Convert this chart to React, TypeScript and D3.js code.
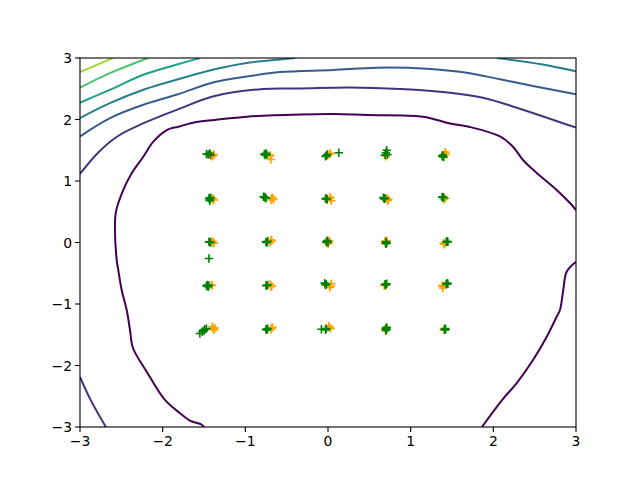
import React from "react";
import * as d3 from "d3";

// Tick values
const xTicks = [-3, -2, -1, 0, 1, 2, 3];
const yTicks = [-3, -2, -1, 0, 1, 2, 3];

// Contour lines (data coordinates), level index -> viridis colour
const contourLevel0a: [number, number][] = [
  [-1.498, -3.0], [-1.54, -2.954], [-1.665, -2.899], [-1.79, -2.776], [-1.978, -2.551],
  [-2.193, -2.101], [-2.359, -1.715], [-2.395, -1.423], [-2.435, -1.098], [-2.496, -0.772],
  [-2.537, -0.447], [-2.556, -0.285], [-2.577, 0.257], [-2.565, 0.501], [-2.476, 0.854],
  [-2.375, 1.125], [-2.234, 1.395], [-2.113, 1.639], [-1.951, 1.829], [-1.811, 1.883],
  [-1.588, 1.959], [-1.371, 1.992], [-0.983, 2.046], [-0.339, 2.081], [0.06, 2.089],
  [0.468, 2.073], [1.149, 2.046], [1.476, 1.935], [1.718, 1.878], [2.081, 1.724],
  [2.238, 1.558], [2.359, 1.341], [2.525, 1.13], [2.766, 0.854], [2.927, 0.642], [3.0, 0.528],
];
const contourLevel0b: [number, number][] = [
  [3.0, -0.312], [2.887, -0.475], [2.846, -0.772], [2.806, -1.098], [2.766, -1.207],
  [2.646, -1.532], [2.48, -1.911], [2.283, -2.285], [2.105, -2.561], [1.862, -3.0],
];
const contourLevel1a: [number, number][] = [
  [-3.0, 1.114], [-2.782, 1.46], [-2.54, 1.732], [-2.217, 1.948], [-1.815, 2.166],
  [-1.371, 2.382], [-0.786, 2.496], [-0.339, 2.504], [0.266, 2.52], [0.871, 2.496],
  [1.476, 2.436], [1.875, 2.354], [2.283, 2.192], [3.0, 1.867],
];
const contourLevel1b: [number, number][] = [
  [-3.0, -2.187], [-2.875, -2.551], [-2.687, -3.0],
];
const contourLevel2: [number, number][] = [
  [-3.0, 1.724], [-2.625, 2.029], [-2.217, 2.247], [-1.815, 2.41], [-1.371, 2.61],
  [-0.944, 2.707], [-0.581, 2.772], [0.06, 2.805], [0.589, 2.842], [1.194, 2.826],
  [1.678, 2.761], [2.081, 2.654], [2.48, 2.545], [3.0, 2.41],
];
const contourLevel3a: [number, number][] = [
  [-3.0, 2.024], [-2.625, 2.273], [-2.217, 2.491], [-1.815, 2.654], [-1.371, 2.816],
  [-0.944, 2.927], [-0.581, 2.976], [-0.399, 3.0],
];
const contourLevel3b: [number, number][] = [
  [2.044, 3.0], [2.564, 2.902], [3.0, 2.784],
];
const contourLevel4: [number, number][] = [
  [-3.0, 2.273], [-2.625, 2.491], [-2.217, 2.735], [-1.815, 2.898], [-1.548, 3.0],
];
const contourLevel5: [number, number][] = [
  [-3.0, 2.517], [-2.625, 2.761], [-2.177, 3.0],
];
const contourLevel6: [number, number][] = [
  [-3.0, 2.772], [-2.601, 3.0],
];

const contourLines = [
  { level: 0, points: contourLevel0a },
  { level: 0, points: contourLevel0b },
  { level: 1, points: contourLevel1a },
  { level: 1, points: contourLevel1b },
  { level: 2, points: contourLevel2 },
  { level: 3, points: contourLevel3a },
  { level: 3, points: contourLevel3b },
  { level: 4, points: contourLevel4 },
  { level: 5, points: contourLevel5 },
  { level: 6, points: contourLevel6 },
];
const levelCount = 8;

// Orange samples [x, y]
const orangePoints: [number, number][] = [
  // row y ≈ 1.41
  [-1.39, 1.42], [-1.4, 1.4], [-1.38, 1.43],
  [-0.7, 1.42], [-0.69, 1.35], [-0.71, 1.4],
  [0.02, 1.44], [0.0, 1.42], [0.03, 1.45],
  [0.71, 1.43], [0.7, 1.4],
  [1.42, 1.47], [1.43, 1.43], [1.41, 1.44],
  // row y ≈ 0.71
  [-1.39, 0.7], [-1.4, 0.72], [-1.38, 0.69],
  [-0.68, 0.72], [-0.66, 0.7], [-0.69, 0.69], [-0.67, 0.73],
  [0.03, 0.72], [0.04, 0.68], [0.02, 0.74],
  [0.73, 0.7], [0.71, 0.72], [0.72, 0.68],
  [1.42, 0.72], [1.4, 0.7],
  // row y ≈ 0
  [-1.39, 0.0], [-1.4, 0.02], [-1.38, -0.01],
  [-0.68, 0.03], [-0.7, 0.0], [-0.69, 0.04],
  [0.0, 0.03], [0.0, -0.02], [0.02, 0.02], [-0.02, 0.0],
  [0.71, 0.03], [0.69, 0.0], [0.69, 0.02],
  [1.4, -0.01], [1.41, -0.03],
  // row y ≈ -0.71
  [-1.41, -0.69], [-1.4, -0.7],
  [-0.68, -0.71], [-0.7, -0.68], [-0.69, -0.72],
  [0.03, -0.71], [0.04, -0.67], [0.02, -0.73],
  [0.69, -0.69], [0.68, -0.7],
  [1.39, -0.72], [1.38, -0.7], [1.39, -0.74],
  // row y ≈ -1.41
  [-1.39, -1.4], [-1.37, -1.39], [-1.4, -1.37], [-1.38, -1.42],
  [-0.68, -1.39], [-0.69, -1.41], [-0.67, -1.38],
  [0.02, -1.38], [0.03, -1.4], [0.01, -1.36],
  [0.7, -1.39], [0.69, -1.41],
  [1.41, -1.4], [1.4, -1.42],
];

// Green samples [x, y]
const greenPoints: [number, number][] = [
  // row y ≈ 1.41
  [-1.47, 1.44], [-1.45, 1.43], [-1.43, 1.45], [-1.42, 1.42],
  [-0.77, 1.44], [-0.75, 1.45], [-0.74, 1.43], [-0.76, 1.42],
  [-0.02, 1.41], [-0.01, 1.43], [-0.03, 1.4], [0.13, 1.46],
  [0.71, 1.5], [0.7, 1.46], [0.72, 1.43], [0.69, 1.42],
  [1.38, 1.4], [1.39, 1.42], [1.4, 1.39],
  // row y ≈ 0.71
  [-1.44, 0.72], [-1.43, 0.7], [-1.42, 0.73], [-1.43, 0.68],
  [-0.78, 0.745], [-0.76, 0.73], [-0.75, 0.72], [-0.77, 0.74],
  [-0.02, 0.72], [-0.01, 0.7], [-0.03, 0.71],
  [0.67, 0.73], [0.69, 0.72], [0.68, 0.71],
  [1.38, 0.735], [1.4, 0.73], [1.39, 0.74],
  // row y ≈ 0
  [-1.44, 0.01], [-1.43, 0.01], [-1.42, 0.0], [-1.44, -0.26],
  [-0.75, 0.01], [-0.73, 0.02], [-0.74, 0.0],
  [-0.02, 0.01], [0.0, 0.0], [-0.01, 0.03],
  [0.71, -0.01], [0.7, -0.02], [0.7, 0.01],
  [1.43, 0.01], [1.45, 0.01], [1.44, 0.02],
  // row y ≈ -0.71
  [-1.47, -0.71], [-1.44, -0.7], [-1.45, -0.72], [-1.46, -0.69],
  [-0.73, -0.69], [-0.74, -0.7], [-0.75, -0.7],
  [-0.04, -0.66], [-0.02, -0.68], [-0.03, -0.69],
  [0.71, -0.67], [0.7, -0.69], [0.69, -0.68],
  [1.44, -0.66], [1.43, -0.68], [1.45, -0.67],
  // row y ≈ -1.41
  [-1.55, -1.48], [-1.52, -1.45], [-1.5, -1.43], [-1.47, -1.4], [-1.49, -1.41],
  [-0.75, -1.41], [-0.73, -1.4], [-0.74, -1.42],
  [-0.08, -1.41], [-0.02, -1.4], [-0.03, -1.42],
  [0.71, -1.41], [0.7, -1.4], [0.71, -1.38], [0.7, -1.43],
  [1.41, -1.41], [1.42, -1.4], [1.42, -1.42],
];

const W = 640;
const H = 480;
const left = 80;
const right = 576;
const top = 58;
const bottom = 427;

const fmt = (v: number) => (v < 0 ? "\u2212" + Math.abs(v) : String(v));

function Plus({ x, y, color }: { x: number; y: number; color: string }) {
  const h = 4.2;
  return (
    <path
      d={`M${x - h},${y}H${x + h}M${x},${y - h}V${y + h}`}
      stroke={color}
      strokeWidth={1.6}
      fill="none"
    />
  );
}

export default function App() {
  const xs = d3.scaleLinear().domain([-3, 3]).range([left, right]);
  const ys = d3.scaleLinear().domain([-3, 3]).range([bottom, top]);
  const line = d3
    .line<[number, number]>()
    .x((d) => xs(d[0]))
    .y((d) => ys(d[1]))
    .curve(d3.curveCatmullRom.alpha(0.5));
  const color = (lvl: number) => d3.interpolateViridis(lvl / (levelCount - 1));

  return (
    <svg
      width={W}
      height={H}
      style={{ position: "absolute", left: 0, top: 0, background: "#fff" }}
      fontFamily="DejaVu Sans"
    >
      <rect x={0} y={0} width={W} height={H} fill="#fff" />
      <defs>
        <clipPath id="plotClip">
          <rect x={left} y={top} width={right - left} height={bottom - top} />
        </clipPath>
      </defs>
      <g clipPath="url(#plotClip)">
        {contourLines.map((c, i) => (
          <path
            key={i}
            d={line(c.points) || ""}
            fill="none"
            stroke={color(c.level)}
            strokeWidth={2}
            strokeLinejoin="round"
            strokeLinecap="butt"
          />
        ))}
        {orangePoints.map((p, i) => (
          <Plus key={"o" + i} x={xs(p[0])} y={ys(p[1])} color="orange" />
        ))}
        {greenPoints.map((p, i) => (
          <Plus key={"g" + i} x={xs(p[0])} y={ys(p[1])} color="green" />
        ))}
      </g>
      <rect
        x={left}
        y={top}
        width={right - left}
        height={bottom - top}
        fill="none"
        stroke="#000"
        strokeWidth={1.1}
      />
      {xTicks.map((t) => (
        <g key={"xt" + t}>
          <line x1={xs(t)} x2={xs(t)} y1={bottom} y2={bottom + 4.9} stroke="#000" strokeWidth={1.1} />
          <text x={xs(t)} y={bottom + 19} textAnchor="middle" fontSize={13.9} fill="#000">
            {fmt(t)}
          </text>
        </g>
      ))}
      {yTicks.map((t) => (
        <g key={"yt" + t}>
          <line x1={left - 4.9} x2={left} y1={ys(t)} y2={ys(t)} stroke="#000" strokeWidth={1.1} />
          <text x={left - 8} y={ys(t) + 5} textAnchor="end" fontSize={13.9} fill="#000">
            {fmt(t)}
          </text>
        </g>
      ))}
    </svg>
  );
}
